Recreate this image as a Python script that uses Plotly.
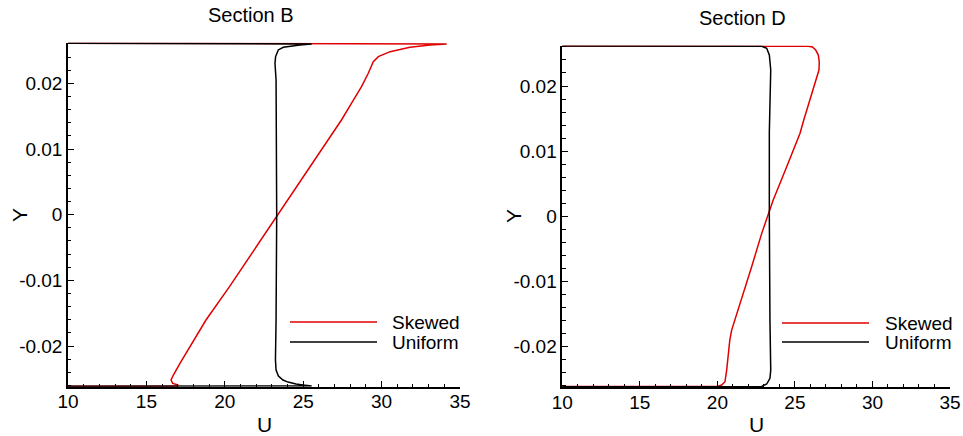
import plotly.graph_objects as go

# ---- velocity profiles (U vs Y) ----
# Section B
skew_b_y = [-0.02615, -0.0261, -0.02594, -0.02568, -0.02517, -0.02441, -0.02263, -0.0201, -0.01756, -0.01603,
            -0.01096, -0.00588, 0.0, 0.00426, 0.00935, 0.01442, 0.01645, 0.01949, 0.02153,
            0.0233, 0.02406, 0.02482, 0.02549, 0.02584, 0.0260, 0.02615]
skew_b_u = [0.0, 16.9, 17.03, 16.68, 16.57, 16.72, 17.14, 17.78, 18.42, 18.80,
            20.30, 21.73, 23.33, 24.54, 25.98, 27.44, 27.95, 28.72, 29.15,
            29.47, 29.79, 30.54, 31.81, 33.09, 34.15, 0.0]

unif_b_y = [-0.02615, -0.02608, -0.02593, -0.02578, -0.02548, -0.02517, -0.02456, -0.02365, -0.0221,
            -0.016, 0.0, 0.0129, 0.02051, 0.02306, 0.02407, 0.02508, 0.02549, 0.02584, 0.0260, 0.02615]
unif_b_u = [0.0, 25.54, 24.99, 24.54, 24.03, 23.71, 23.42, 23.27, 23.23,
            23.27, 23.31, 23.31, 23.27, 23.2, 23.24, 23.41, 23.73, 24.79, 25.54, 0.0]

# Section D
skew_d_y = [-0.02615, -0.0261, -0.02589, -0.02538, -0.02359, -0.02102, -0.01898, -0.01745, -0.01514,
            -0.01284, -0.00773, -0.00261, 0.00046, 0.0025, 0.00761, 0.01274, 0.01478, 0.01785,
            0.02092, 0.02245, 0.02368, 0.02475, 0.02552, 0.02598, 0.0261, 0.02615]
skew_d_u = [0.0, 19.99, 20.28, 20.49, 20.60, 20.70, 20.80, 20.92, 21.23,
            21.57, 22.21, 22.86, 23.28, 23.60, 24.47, 25.33, 25.57, 25.97,
            26.38, 26.55, 26.57, 26.51, 26.34, 26.13, 25.86, 0.0]

unif_d_y = [-0.02615, -0.0261, -0.02573, -0.02486, -0.0236, -0.01595, 0.0, 0.0129, 0.02245,
            0.02348, 0.02475, 0.02578, 0.0261, 0.02615]
unif_d_u = [0.0, 22.86, 23.18, 23.39, 23.44, 23.39, 23.35, 23.35, 23.44,
            23.39, 23.35, 23.18, 22.86, 0.0]

series_names = ["Skewed", "Uniform"]
section_titles = ["Section B", "Section D"]

u_ticks = [10, 15, 20, 25, 30, 35]
u_ticklabels = ["10", "15", "20", "25", "30", "35"]
y_ticks = [-0.02, -0.01, 0.0, 0.01, 0.02]
y_ticklabels = ["-0.02", "-0.01", "0", "0.01", "0.02"]

RED = "#e00000"
BLACK = "#000000"
FONT = "Arial, Liberation Sans, sans-serif"
W, H = 963, 436


def px(x):
    return x / W


def py(y):
    return 1 - y / H


def profile(u, y, color, xa, ya):
    return go.Scatter(x=u, y=y, mode="lines", line=dict(color=color, width=1.5),
                      xaxis=xa, yaxis=ya, showlegend=False, hoverinfo="x+y")


fig = go.Figure()
fig.add_trace(profile(skew_b_u, skew_b_y, RED, "x", "y"))
fig.add_trace(profile(unif_b_u, unif_b_y, BLACK, "x", "y"))
fig.add_trace(profile(skew_d_u, skew_d_y, RED, "x2", "y2"))
fig.add_trace(profile(unif_d_u, unif_d_y, BLACK, "x2", "y2"))


def u_axis(domain, anchor):
    return dict(domain=domain, anchor=anchor, range=[10, 35], tickmode="array", automargin=False,
                tickvals=u_ticks, ticktext=u_ticklabels, ticks="inside", ticklen=6,
                tickwidth=1, tickcolor="black", showline=True, linecolor="black", linewidth=1.5,
                showgrid=False, zeroline=False, ticklabelstandoff=-3,
                tickfont=dict(size=19, color="black", family=FONT),
                minor=dict(tick0=10, dtick=1, ticks="inside", ticklen=3, tickwidth=1,
                           tickcolor="black"))


def y_axis(domain, anchor):
    return dict(domain=domain, anchor=anchor, range=[-0.0262, 0.0262], tickmode="array", automargin=False,
                tickvals=y_ticks, ticktext=y_ticklabels, ticks="inside", ticklen=6,
                tickwidth=1, tickcolor="black", showline=True, linecolor="black", linewidth=1.5,
                showgrid=False, zeroline=False, tickfont=dict(size=19, color="black", family=FONT),
                minor=dict(tick0=0, dtick=0.002, ticks="inside", ticklen=3.5, tickwidth=1,
                           tickcolor="black"))


annotations = []
shapes = []
panels = [
    # title centre, U label centre, Y label centre, legend key x0/x1, legend row y, legend text x (pixels)
    dict(title=(250.8, 15), ulab=(264.5, 424.5), ylab=(19, 215), leg=(290, 377), rows=(322, 342), text_x=389.5),
    dict(title=(742.5, 18), ulab=(756, 424), ylab=(513, 216), leg=(782, 869), rows=(323, 342), text_x=882.5),
]
for title, p in zip(section_titles, panels):
    annotations.append(dict(text=title, x=px(p["title"][0]), y=py(p["title"][1]), xref="paper", yref="paper",
                            xanchor="center", yanchor="middle", showarrow=False,
                            font=dict(size=20, color="black", family=FONT)))
    annotations.append(dict(text="U", x=px(p["ulab"][0]), y=py(p["ulab"][1]), xref="paper", yref="paper",
                            xanchor="center", yanchor="middle", showarrow=False,
                            font=dict(size=21, color="black", family=FONT)))
    annotations.append(dict(text="Y", x=px(p["ylab"][0]), y=py(p["ylab"][1]), xref="paper", yref="paper",
                            xanchor="center", yanchor="middle", showarrow=False, textangle=-90,
                            font=dict(size=21, color="black", family=FONT)))
    for name, color, row in zip(series_names, [RED, BLACK], p["rows"]):
        shapes.append(dict(type="line", xref="paper", yref="paper", x0=px(p["leg"][0]), x1=px(p["leg"][1]),
                           y0=py(row), y1=py(row), line=dict(color=color, width=1.5)))
        annotations.append(dict(text=name, x=px(p["text_x"]), y=py(row), xref="paper", yref="paper",
                                xanchor="left", yanchor="middle", showarrow=False,
                                font=dict(size=19, color="black", family=FONT)))

fig.update_layout(
    width=W, height=H,
    margin=dict(l=0, r=0, t=0, b=0, pad=0, autoexpand=False),
    paper_bgcolor="white", plot_bgcolor="white",
    font=dict(family=FONT, color="black"),
    xaxis=u_axis([px(68), px(460)], "y"),
    yaxis=y_axis([py(386.8), py(42.6)], "x"),
    xaxis2=u_axis([px(562.3), px(950)], "y2"),
    yaxis2=y_axis([py(387.1), py(45.6)], "x2"),
    annotations=annotations,
    shapes=shapes,
    showlegend=False,
)

fig.write_html("out.html")
